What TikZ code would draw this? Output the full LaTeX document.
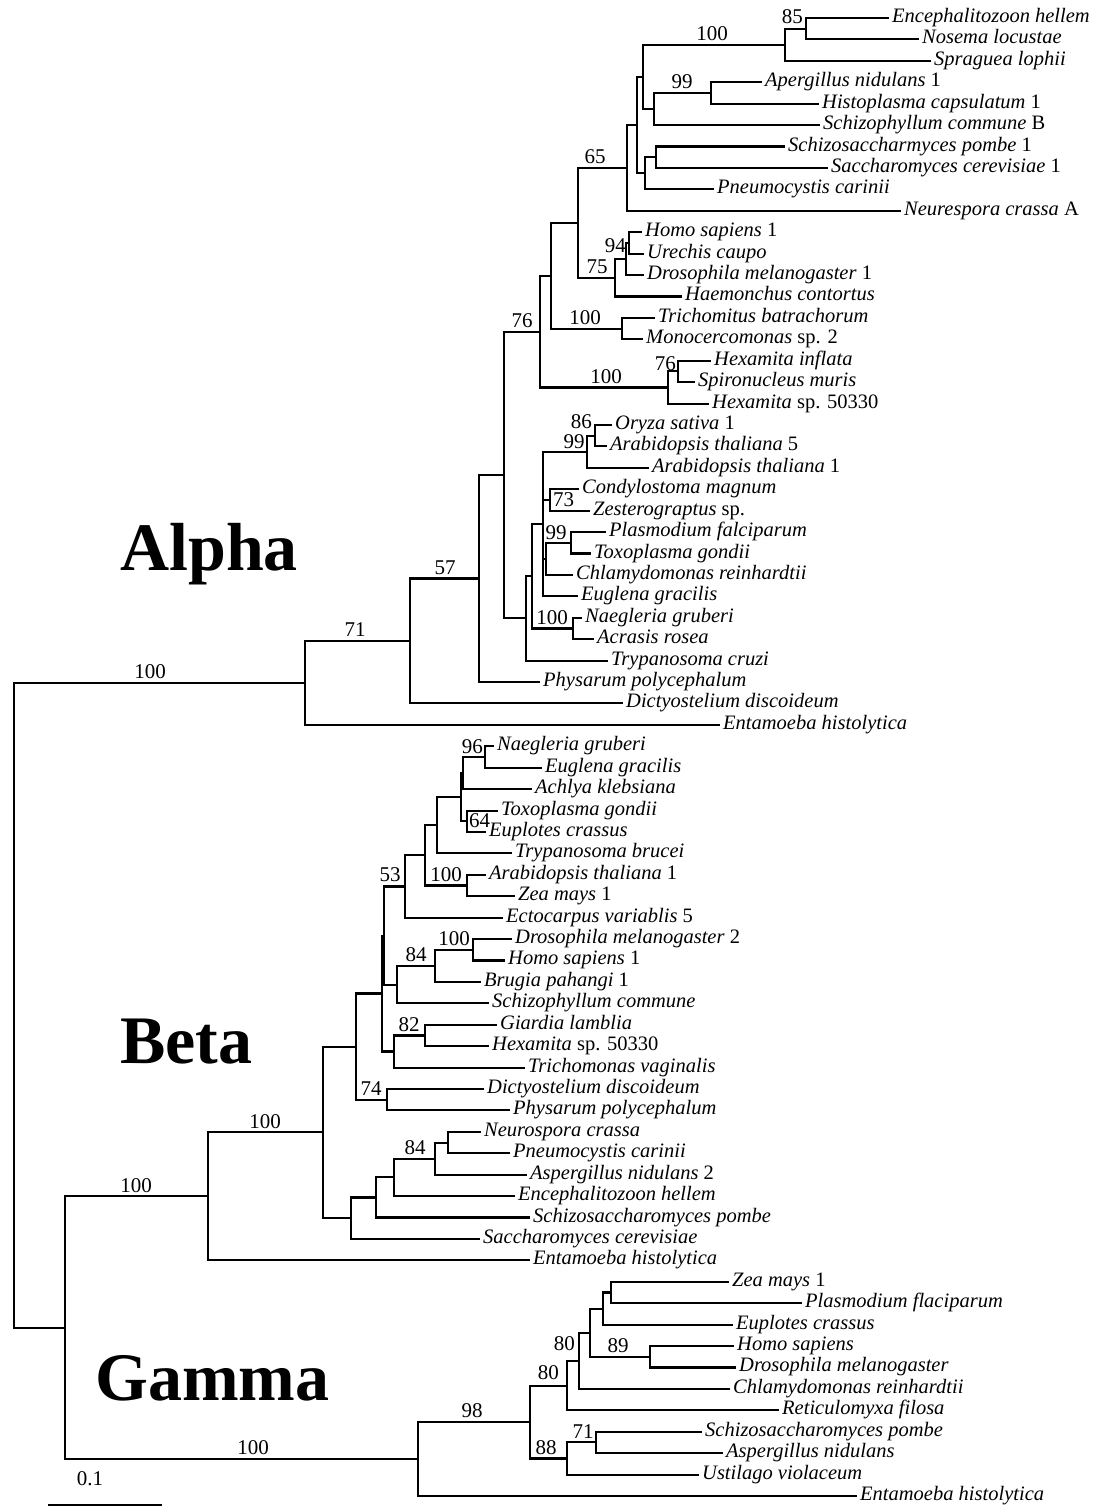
\documentclass[tikz,border=0pt]{standalone}
\usepackage{fontspec}
\setmainfont{Liberation Serif}

\begin{document}
\begin{tikzpicture}[x=1pt, y=-1pt,
    br/.style={line width=2.1pt},
    taxon/.style={anchor=west, inner sep=3pt, text height=13pt, text depth=4pt,
                  font=\fontsize{20.5}{22}\selectfont\itshape},
    boot/.style={inner sep=1pt, font=\fontsize{21}{22}\selectfont},
    clade/.style={anchor=base west, inner sep=0pt, font=\fontsize{68}{72}\selectfont\bfseries}
  ]
  \fill[white] (0,0) rectangle (1101,1510);
  \useasboundingbox (0,0) rectangle (1101,1510);

  % ------------- Alpha -------------
  \node[taxon] (a01) at (889,18.00)  {Encephalitozoon hellem};
  \node[taxon] (a02) at (919,39.42)  {Nosema locustae};
  \node[taxon] (a03) at (931,60.84)  {Spraguea lophii};
  \node[taxon] (a04) at (762,82.26)  {Apergillus nidulans \textup{1}};
  \node[taxon] (a05) at (819,103.68) {Histoplasma capsulatum \textup{1}};
  \node[taxon] (a06) at (820,125.10) {Schizophyllum commune \textup{B}};
  \node[taxon] (a07) at (785,146.52) {Schizosaccharmyces pombe \textup{1}};
  \node[taxon] (a08) at (828,167.94) {Saccharomyces cerevisiae \textup{1}};
  \node[taxon] (a09) at (714,189.36) {Pneumocystis carinii};
  \node[taxon] (a10) at (901,210.78) {Neurespora crassa \textup{A}};
  \node[taxon] (a11) at (642,232.20) {Homo sapiens \textup{1}};
  \node[taxon] (a12) at (644,253.62) {Urechis caupo};
  \node[taxon] (a13) at (644,275.04) {Drosophila melanogaster \textup{1}};
  \node[taxon] (a14) at (682,296.46) {Haemonchus contortus};
  \node[taxon] (a15) at (655,317.88) {Trichomitus batrachorum};
  \node[taxon] (a16) at (643,339.30) {Monocercomonas \textup{sp. 2}};
  \node[taxon] (a17) at (711,360.72) {Hexamita inflata};
  \node[taxon] (a18) at (695,382.14) {Spironucleus muris};
  \node[taxon] (a19) at (709,403.56) {Hexamita \textup{sp. 50330}};
  \node[taxon] (a20) at (612,424.98) {Oryza sativa \textup{1}};
  \node[taxon] (a21) at (607,446.40) {Arabidopsis thaliana \textup{5}};
  \node[taxon] (a22) at (649,467.82) {Arabidopsis thaliana \textup{1}};
  \node[taxon] (a23) at (579,489.24) {Condylostoma magnum};
  \node[taxon] (a24) at (590,510.66) {Zesterograptus \textup{sp.}};
  \node[taxon] (a25) at (606,532.08) {Plasmodium falciparum};
  \node[taxon] (a26) at (591,553.50) {Toxoplasma gondii};
  \node[taxon] (a27) at (573,574.92) {Chlamydomonas reinhardtii};
  \node[taxon] (a28) at (578,596.34) {Euglena gracilis};
  \node[taxon] (a29) at (582,617.76) {Naegleria gruberi};
  \node[taxon] (a30) at (594,639.18) {Acrasis rosea};
  \node[taxon] (a31) at (608,660.60) {Trypanosoma cruzi};
  \node[taxon] (a32) at (540,682.02) {Physarum polycephalum};
  \node[taxon] (a33) at (623,703.44) {Dictyostelium discoideum};
  \node[taxon] (a34) at (720,724.86) {Entamoeba histolytica};

  \coordinate (al85)   at (806,28.71);
  \coordinate (alMic)  at (785,44.78);
  \coordinate (al99)   at (711,92.97);
  \coordinate (alAsc)  at (654,109.04);
  \coordinate (alFun)  at (643,76.91);
  \coordinate (alSac)  at (656,157.23);
  \coordinate (alSac2) at (645,173.30);
  \coordinate (alF637) at (637,125.10);
  \coordinate (al65)   at (627,167.94);
  \coordinate (al94)   at (629,242.91);
  \coordinate (alDro)  at (626,258.98);
  \coordinate (al75)   at (615,277.72);
  \coordinate (alX578) at (578,222.83);
  \coordinate (alT100) at (622,328.59);
  \coordinate (alX551) at (551,275.71);
  \coordinate (al76h)  at (678,371.43);
  \coordinate (alHex)  at (668,387.50);
  \coordinate (alX540) at (540,331.60);
  \coordinate (al86)   at (595,435.69);
  \coordinate (al99p)  at (587,451.76);
  \coordinate (al73)   at (550,499.95);
  \coordinate (alPla)  at (571,542.79);
  \coordinate (alChl)  at (546,558.86);
  \coordinate (alV)    at (543,524.05);
  \coordinate (alNae)  at (573,628.47);
  \coordinate (alU)    at (532,576.26);
  \coordinate (alL)    at (526,618.43);
  \coordinate (alX504) at (504,475.02);
  \coordinate (al57)   at (479,578.52);
  \coordinate (al71)   at (410,640.98);
  \coordinate (alA)    at (305,682.92);

  \draw[br] (al85) |- (a01.west) (al85) |- (a02.west);
  \draw[br] (alMic) |- (al85) (alMic) |- (a03.west);
  \draw[br] (al99) |- (a04.west) (al99) |- (a05.west);
  \draw[br] (alAsc) |- (al99) (alAsc) |- (a06.west);
  \draw[br] (alFun) |- (alMic) (alFun) |- (alAsc);
  \draw[br] (alSac) |- (a07.west) (alSac) |- (a08.west);
  \draw[br] (alSac2) |- (alSac) (alSac2) |- (a09.west);
  \draw[br] (alF637) |- (alFun) (alF637) |- (alSac2);
  \draw[br] (al65) |- (alF637) (al65) |- (a10.west);
  \draw[br] (al94) |- (a11.west) (al94) |- (a12.west);
  \draw[br] (alDro) |- (al94) (alDro) |- (a13.west);
  \draw[br] (al75) |- (alDro) (al75) |- (a14.west);
  \draw[br] (alX578) |- (al65) (alX578) |- (al75);
  \draw[br] (alT100) |- (a15.west) (alT100) |- (a16.west);
  \draw[br] (alX551) |- (alX578) (alX551) |- (alT100);
  \draw[br] (al76h) |- (a17.west) (al76h) |- (a18.west);
  \draw[br] (alHex) |- (al76h) (alHex) |- (a19.west);
  \draw[br] (alX540) |- (alX551) (alX540) |- (alHex);
  \draw[br] (al86) |- (a20.west) (al86) |- (a21.west);
  \draw[br] (al99p) |- (al86) (al99p) |- (a22.west);
  \draw[br] (al73) |- (a23.west) (al73) |- (a24.west);
  \draw[br] (alPla) |- (a25.west) (alPla) |- (a26.west);
  \draw[br] (alChl) |- (alPla) (alChl) |- (a27.west);
  \draw[br] (alV) |- (al99p) (alV) |- (al73) (alV) |- (alChl) (alV) |- (a28.west);
  \draw[br] (alNae) |- (a29.west) (alNae) |- (a30.west);
  \draw[br] (alU) |- (alV) (alU) |- (alNae);
  \draw[br] (alL) |- (alU) (alL) |- (a31.west);
  \draw[br] (alX504) |- (alX540) (alX504) |- (alL);
  \draw[br] (al57) |- (alX504) (al57) |- (a32.west);
  \draw[br] (al71) |- (al57) (al71) |- (a33.west);
  \draw[br] (alA) |- (al71) (alA) |- (a34.west);

  \node[boot, anchor=south] (bA100) at (150,680) {100};
  \node[boot, anchor=south] (bA71)  at (355,638) {71};
  \node[boot, anchor=south] (bA57)  at (445,576) {57};
  \node[boot, anchor=south] (bA76)  at (522,329) {76};
  \node[boot, anchor=south] (bA65)  at (595,165) {65};
  \node[boot, anchor=south] (bAmic) at (712,42)  {100};
  \node[boot, anchor=east]  (bA85)  at (804,17)  {85};
  \node[boot, anchor=south] (bA99)  at (682,90)  {99};
  \node[boot, anchor=east]  (bA94)  at (627,246) {94};
  \node[boot, anchor=south] (bA75)  at (597,275) {75};
  \node[boot, anchor=south] (bAtri) at (585,326) {100};
  \node[boot, anchor=south] (bAhex) at (606,385) {100};
  \node[boot, anchor=east]  (bA76h) at (677,364) {76};
  \node[boot, anchor=east]  (bA86)  at (593,422) {86};
  \node[boot, anchor=south] (bA99p) at (574,450) {99};
  \node[boot, anchor=west]  (bA73)  at (552,500) {73};
  \node[boot, anchor=south] (bApla) at (556,541) {99};
  \node[boot, anchor=south] (bAnae) at (552,626) {100};
  \node[clade] (alpha) at (120,570) {Alpha};

  % ------------- Beta -------------
  \node[taxon] (b35) at (494,746.28)  {Naegleria gruberi};
  \node[taxon] (b36) at (542,767.70)  {Euglena gracilis};
  \node[taxon] (b37) at (532,789.12)  {Achlya klebsiana};
  \node[taxon] (b38) at (498,810.54)  {Toxoplasma gondii};
  \node[taxon] (b39) at (486,831.96)  {Euplotes crassus};
  \node[taxon] (b40) at (512,853.38)  {Trypanosoma brucei};
  \node[taxon] (b41) at (486,874.80)  {Arabidopsis thaliana \textup{1}};
  \node[taxon] (b42) at (515,896.22)  {Zea mays \textup{1}};
  \node[taxon] (b43) at (503,917.64)  {Ectocarpus variablis \textup{5}};
  \node[taxon] (b44) at (512,939.06)  {Drosophila melanogaster \textup{2}};
  \node[taxon] (b45) at (505,960.48)  {Homo sapiens \textup{1}};
  \node[taxon] (b46) at (481,981.90)  {Brugia pahangi \textup{1}};
  \node[taxon] (b47) at (489,1003.32) {Schizophyllum commune};
  \node[taxon] (b48) at (497,1024.74) {Giardia lamblia};
  \node[taxon] (b49) at (489,1046.16) {Hexamita \textup{sp. 50330}};
  \node[taxon] (b50) at (525,1067.58) {Trichomonas vaginalis};
  \node[taxon] (b51) at (484,1089.00) {Dictyostelium discoideum};
  \node[taxon] (b52) at (510,1110.42) {Physarum polycephalum};
  \node[taxon] (b53) at (481,1131.84) {Neurospora crassa};
  \node[taxon] (b54) at (510,1153.26) {Pneumocystis carinii};
  \node[taxon] (b55) at (527,1174.68) {Aspergillus nidulans \textup{2}};
  \node[taxon] (b56) at (515,1196.10) {Encephalitozoon hellem};
  \node[taxon] (b57) at (530,1217.52) {Schizosaccharomyces pombe};
  \node[taxon] (b58) at (480,1238.94) {Saccharomyces cerevisiae};
  \node[taxon] (b59) at (530,1260.36) {Entamoeba histolytica};

  \coordinate (be96)   at (485,756.99);
  \coordinate (beA0)   at (463,773.06);
  \coordinate (be64)   at (467,821.25);
  \coordinate (beA1)   at (461,797.16);
  \coordinate (beTry)  at (437,825.27);
  \coordinate (be100b) at (467,885.51);
  \coordinate (beB1)   at (425,855.39);
  \coordinate (be53)   at (405,886.52);
  \coordinate (be100d) at (473,949.77);
  \coordinate (be84)   at (435,965.84);
  \coordinate (beSch)  at (397,984.58);
  \coordinate (beC1)   at (384,935.55);
  \coordinate (be82)   at (425,1035.45);
  \coordinate (beTV)   at (394,1051.52);
  \coordinate (beC2)   at (382,993.53);
  \coordinate (be74)   at (387,1099.71);
  \coordinate (beD)    at (356,1046.62);
  \coordinate (be84b)  at (448,1142.55);
  \coordinate (beF1)   at (435,1158.62);
  \coordinate (beF2)   at (394,1177.36);
  \coordinate (beF3)   at (376,1197.44);
  \coordinate (beF4)   at (351,1218.19);
  \coordinate (beE)    at (323,1132.41);
  \coordinate (beB)    at (208,1196.39);

  \draw[br] (be96) |- (b35.west) (be96) |- (b36.west);
  \draw[br] (beA0) |- (be96) (beA0) |- (b37.west);
  \draw[br] (be64) |- (b38.west) (be64) |- (b39.west);
  \draw[br] (beA1) |- (beA0) (beA1) |- (be64);
  \draw[br] (beTry) |- (beA1) (beTry) |- (b40.west);
  \draw[br] (be100b) |- (b41.west) (be100b) |- (b42.west);
  \draw[br] (beB1) |- (beTry) (beB1) |- (be100b);
  \draw[br] (be53) |- (beB1) (be53) |- (b43.west);
  \draw[br] (be100d) |- (b44.west) (be100d) |- (b45.west);
  \draw[br] (be84) |- (be100d) (be84) |- (b46.west);
  \draw[br] (beSch) |- (be84) (beSch) |- (b47.west);
  \draw[br] (beC1) |- (be53) (beC1) |- (beSch);
  \draw[br] (be82) |- (b48.west) (be82) |- (b49.west);
  \draw[br] (beTV) |- (be82) (beTV) |- (b50.west);
  \draw[br] (beC2) |- (beC1) (beC2) |- (beTV);
  \draw[br] (be74) |- (b51.west) (be74) |- (b52.west);
  \draw[br] (beD) |- (beC2) (beD) |- (be74);
  \draw[br] (be84b) |- (b53.west) (be84b) |- (b54.west);
  \draw[br] (beF1) |- (be84b) (beF1) |- (b55.west);
  \draw[br] (beF2) |- (beF1) (beF2) |- (b56.west);
  \draw[br] (beF3) |- (beF2) (beF3) |- (b57.west);
  \draw[br] (beF4) |- (beF3) (beF4) |- (b58.west);
  \draw[br] (beE) |- (beD) (beE) |- (beF4);
  \draw[br] (beB) |- (beE) (beB) |- (b59.west);

  \node[boot, anchor=east]  (bB96)  at (484,747)  {96};
  \node[boot, anchor=west]  (bB64)  at (468,821)  {64};
  \node[boot, anchor=south] (bB53)  at (390,883)  {53};
  \node[boot, anchor=south] (bBara) at (446,883)  {100};
  \node[boot, anchor=south] (bBdro) at (454,947)  {100};
  \node[boot, anchor=south] (bB84)  at (416,963)  {84};
  \node[boot, anchor=south] (bB82)  at (409,1033) {82};
  \node[boot, anchor=south] (bB74)  at (371,1097) {74};
  \node[boot, anchor=south] (bB84f) at (415,1156) {84};
  \node[boot, anchor=south] (bB100) at (265,1130) {100};
  \node[clade] (beta) at (120,1063) {Beta};

  % ------------- Gamma -------------
  \node[taxon] (c60) at (729,1281.78) {Zea mays \textup{1}};
  \node[taxon] (c61) at (802,1303.20) {Plasmodium flaciparum};
  \node[taxon] (c62) at (733,1324.62) {Euplotes crassus};
  \node[taxon] (c63) at (734,1346.04) {Homo sapiens};
  \node[taxon] (c64) at (736,1367.46) {Drosophila melanogaster};
  \node[taxon] (c65) at (730,1388.88) {Chlamydomonas reinhardtii};
  \node[taxon] (c66) at (779,1410.30) {Reticulomyxa filosa};
  \node[taxon] (c67) at (702,1431.72) {Schizosaccharomyces pombe};
  \node[taxon] (c68) at (723,1453.14) {Aspergillus nidulans};
  \node[taxon] (c69) at (699,1474.56) {Ustilago violaceum};
  \node[taxon] (c70) at (857,1495.98) {Entamoeba histolytica};

  \coordinate (gaZP)  at (611,1292.49);
  \coordinate (gaEu)  at (603,1308.56);
  \coordinate (ga89)  at (650,1356.75);
  \coordinate (ga80a) at (590,1332.66);
  \coordinate (ga80b) at (579,1360.77);
  \coordinate (gaRet) at (567,1385.54);
  \coordinate (ga71)  at (596,1442.43);
  \coordinate (ga88)  at (567,1458.50);
  \coordinate (gaIn)  at (530,1422.02);
  \coordinate (ga98)  at (418,1459.00);

  \draw[br] (gaZP) |- (c60.west) (gaZP) |- (c61.west);
  \draw[br] (gaEu) |- (gaZP) (gaEu) |- (c62.west);
  \draw[br] (ga89) |- (c63.west) (ga89) |- (c64.west);
  \draw[br] (ga80a) |- (gaEu) (ga80a) |- (ga89);
  \draw[br] (ga80b) |- (ga80a) (ga80b) |- (c65.west);
  \draw[br] (gaRet) |- (ga80b) (gaRet) |- (c66.west);
  \draw[br] (ga71) |- (c67.west) (ga71) |- (c68.west);
  \draw[br] (ga88) |- (ga71) (ga88) |- (c69.west);
  \draw[br] (gaIn) |- (gaRet) (gaIn) |- (ga88);
  \draw[br] (ga98) |- (gaIn) (ga98) |- (c70.west);

  \node[boot, anchor=south] (bG89)  at (618,1354) {89};
  \node[boot, anchor=east]  (bG80a) at (576,1344) {80};
  \node[boot, anchor=east]  (bG80b) at (560,1373) {80};
  \node[boot, anchor=south] (bG98)  at (472,1419) {98};
  \node[boot, anchor=south] (bG71)  at (583,1440) {71};
  \node[boot, anchor=south] (bG88)  at (546,1456) {88};
  \node[boot, anchor=south] (bG100) at (253,1456) {100};
  \node[clade] (gamma) at (95,1400) {Gamma};

  % ------------- root and scale -------------
  \coordinate (bg)   at (65,1327.70);
  \coordinate (root) at (14,1005.31);
  \draw[br] (bg) |- (beB) (bg) |- (ga98);
  \draw[br] (root) |- (alA) (root) |- (bg);
  \node[boot, anchor=south] (bBG100) at (136,1194) {100};

  \coordinate (sbl) at (48,1505);
  \coordinate (sbr) at (162,1505);
  \draw[br] (sbl) -- (sbr);
  \node[boot] (sblab) at (90,1479) {0.1};
\end{tikzpicture}
\end{document}
